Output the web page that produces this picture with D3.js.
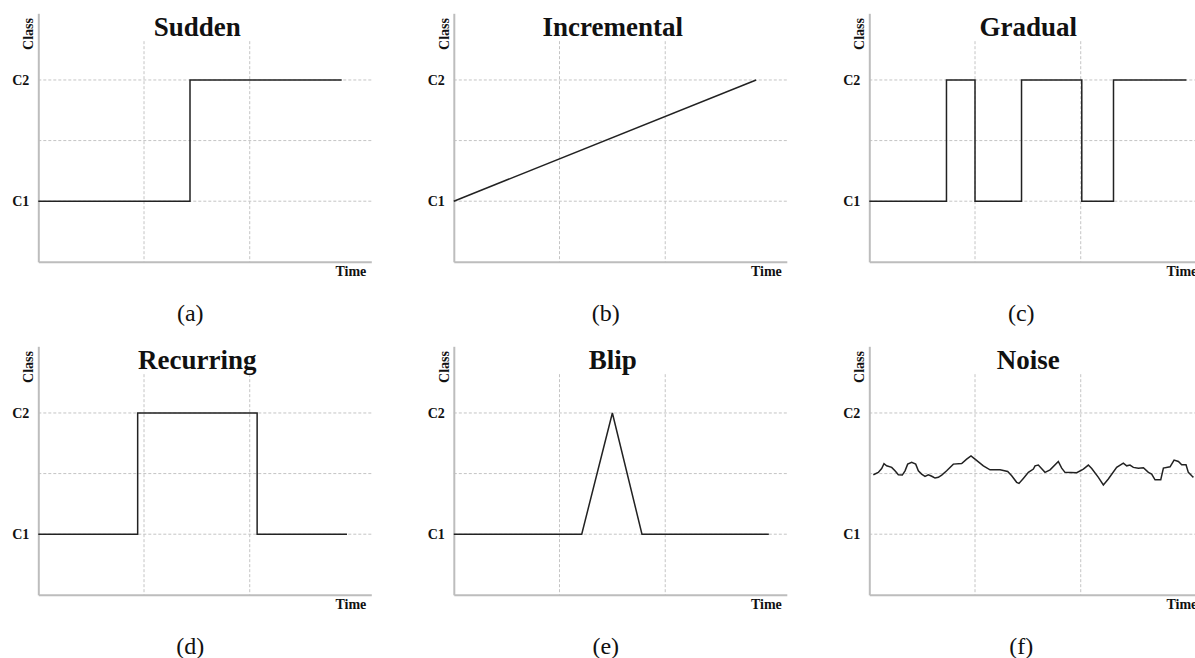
<!DOCTYPE html>
<html>
<head>
<meta charset="utf-8">
<script src="https://cdn.jsdelivr.net/npm/d3@7"></script>
<style>
  body { margin: 0; background: #fff; }
  svg text { font-family: "Liberation Serif", "Times New Roman", serif; }
</style>
</head>
<body>
<div id="main"></div>
<script>

// panel texts
var panelTitles = ["Sudden", "Incremental", "Gradual", "Recurring", "Blip", "Noise"];
var panelCaptions = ["(a)", "(b)", "(c)", "(d)", "(e)", "(f)"];

// axis ticks
var classTicks = [1, 2];
var classLabels = ["C1", "C2"];
var classGrid = [1, 1.5, 2];
var timeGrid = [1, 2];

// series (time, class)
var suddenTime = [0, 1.435, 2.87];
var suddenClass = [1, 2, 2];

var incrementalTime = [0, 2.86];
var incrementalClass = [1, 2];

var gradualTime = [0, 0.73, 1.0, 1.44, 2.01, 2.31, 3.0];
var gradualClass = [1, 2, 1, 2, 1, 2, 2];

var recurringTime = [0, 0.94, 2.07, 2.92];
var recurringClass = [1, 2, 1, 1];

var blipTime = [0, 1.21, 1.5, 1.78, 2.98];
var blipClass = [1, 1, 2, 1, 1];

var noiseTime = [0.038, 0.085, 0.117, 0.139, 0.164, 0.212, 0.243, 0.275, 0.312, 0.338,
	0.363, 0.401, 0.439, 0.464, 0.495, 0.527, 0.558, 0.581, 0.600, 0.622,
	0.653, 0.685, 0.732, 0.795, 0.874, 0.921, 0.962, 1.000, 1.079, 1.142,
	1.237, 1.309, 1.347, 1.394, 1.416, 1.457, 1.505, 1.552, 1.568, 1.599,
	1.662, 1.710, 1.788, 1.820, 1.851, 1.962, 2.025, 2.072, 2.104, 2.167,
	2.214, 2.261, 2.340, 2.403, 2.435, 2.466, 2.498, 2.545, 2.593, 2.640,
	2.671, 2.703, 2.757, 2.782, 2.845, 2.883, 2.924, 2.955, 2.996, 3.018,
	3.050, 3.066];
var noiseClass = [1.490, 1.510, 1.542, 1.581, 1.564, 1.551, 1.523, 1.490, 1.488, 1.523,
	1.578, 1.592, 1.578, 1.523, 1.496, 1.477, 1.490, 1.482, 1.474, 1.463,
	1.469, 1.488, 1.523, 1.578, 1.583, 1.619, 1.646, 1.619, 1.564, 1.531,
	1.531, 1.518, 1.482, 1.428, 1.419, 1.460, 1.510, 1.537, 1.564, 1.570,
	1.510, 1.531, 1.600, 1.545, 1.510, 1.507, 1.537, 1.570, 1.542, 1.469,
	1.406, 1.455, 1.551, 1.586, 1.564, 1.570, 1.551, 1.545, 1.548, 1.510,
	1.496, 1.449, 1.449, 1.545, 1.556, 1.611, 1.600, 1.572, 1.572, 1.510,
	1.482, 1.469];

var seriesTime = [suddenTime, incrementalTime, gradualTime, recurringTime, blipTime, noiseTime];
var seriesClass = [suddenClass, incrementalClass, gradualClass, recurringClass, blipClass, noiseClass];
var stepped = [true, false, true, true, false, false];

//Width and height
var w = 1195,
	h = 658;

// scales shared by every panel
var x = d3.scaleLinear()
	.domain([0, 3.15])
	.range([0, 333]);

var y = d3.scaleLinear()
	.domain([0.5, 2.55])
	.range([261.8, 13.3]);

var gridTop = 2.32;

var svg = d3.select("#main")
	.append("svg")
	.attr("width", w)
	.attr("height", h);

panelTitles.forEach(function(title, i) {
	var col = i % 3,
		row = Math.floor(i / 3);

	var g = svg.append("g")
		.attr("transform", "translate(" + (38.3 + col * 415.5) + "," + (row * 333) + ")");

	// horizontal grid
	g.selectAll(".hgrid")
		.data(classGrid)
		.enter()
		.append("line")
		.attr("x1", x(0))
		.attr("x2", x(3.15))
		.attr("y1", function(d) { return y(d); })
		.attr("y2", function(d) { return y(d); })
		.attr("stroke", "#c4c4c4")
		.attr("stroke-width", 1)
		.attr("stroke-dasharray", "3,2");

	// vertical grid
	g.selectAll(".vgrid")
		.data(timeGrid)
		.enter()
		.append("line")
		.attr("x1", function(d) { return x(d); })
		.attr("x2", function(d) { return x(d); })
		.attr("y1", y(gridTop))
		.attr("y2", y(0.5))
		.attr("stroke", "#c4c4c4")
		.attr("stroke-width", 1)
		.attr("stroke-dasharray", "3,2");

	// y axis
	var yAxis = g.append("g")
		.call(d3.axisLeft(y)
			.tickValues(classTicks)
			.tickFormat(function(d, j) { return classLabels[j]; })
			.tickSize(0)
			.tickPadding(9));
	yAxis.select(".domain").attr("stroke", "#bdbdbd").attr("stroke-width", 2);
	yAxis.selectAll("text")
		.attr("font-size", 14)
		.attr("font-weight", "bold")
		.attr("fill", "#111");

	// x axis
	var xAxis = g.append("g")
		.attr("transform", "translate(0," + y(0.5) + ")")
		.call(d3.axisBottom(x).tickValues([]).tickSizeOuter(0));
	xAxis.select(".domain").attr("stroke", "#bdbdbd").attr("stroke-width", 2);

	// series line
	var line = d3.line()
		.x(function(d) { return x(d[0]); })
		.y(function(d) { return y(d[1]); })
		.curve(stepped[i] ? d3.curveStepAfter : d3.curveLinear);

	g.append("path")
		.datum(d3.zip(seriesTime[i], seriesClass[i]))
		.attr("d", line)
		.attr("fill", "none")
		.attr("stroke", "#222")
		.attr("stroke-width", 1.5);

	// texts
	g.append("text")
		.attr("x", 159)
		.attr("y", 36)
		.attr("text-anchor", "middle")
		.attr("font-size", 27)
		.attr("font-weight", "bold")
		.attr("fill", "#111")
		.text(title);

	g.append("text")
		.attr("transform", "translate(-5,34) rotate(-90)")
		.attr("text-anchor", "middle")
		.attr("font-size", 14)
		.attr("font-weight", "bold")
		.attr("fill", "#111")
		.text("Class");

	g.append("text")
		.attr("x", 328)
		.attr("y", 276)
		.attr("text-anchor", "end")
		.attr("font-size", 14)
		.attr("font-weight", "bold")
		.attr("fill", "#111")
		.text("Time");

	g.append("text")
		.attr("x", 152)
		.attr("y", 321)
		.attr("text-anchor", "middle")
		.attr("font-size", 24)
		.attr("fill", "#111")
		.text(panelCaptions[i]);
});

</script>
</body>
</html>
